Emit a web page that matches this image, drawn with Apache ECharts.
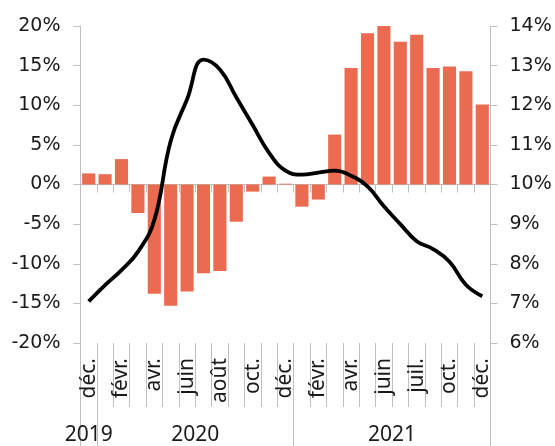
<!DOCTYPE html>
<html>
<head>
<meta charset="utf-8">
<script src="https://cdn.jsdelivr.net/npm/echarts@6/dist/echarts.min.js"></script>
<style>
  html, body { margin: 0; padding: 0; background: #fff; }
  #chart { width: 555px; height: 446px; }
</style>
</head>
<body>
<div id="chart"></div>
<script>
// Monthly categories, déc. 2019 to déc. 2021
const months = [
  'déc.', 'janv.', 'févr.', 'mars', 'avr.', 'mai', 'juin', 'juil.', 'août', 'sept.', 'oct.', 'nov.',
  'déc.', 'janv.', 'févr.', 'mars', 'avr.', 'mai', 'juin', 'juil.', 'juil.', 'sept.', 'oct.', 'nov.', 'déc.'
];
// Year of each month, used to build the grouped year band under the month labels
const monthYears = [
  2019, 2020, 2020, 2020, 2020, 2020, 2020, 2020, 2020, 2020, 2020, 2020,
  2020, 2021, 2021, 2021, 2021, 2021, 2021, 2021, 2021, 2021, 2021, 2021, 2021
];
// Bars, left axis (%)
const barValues = [
  1.4, 1.3, 3.2, -3.6, -13.8, -15.3, -13.5, -11.2, -10.9, -4.7, -0.9, 1.0,
  0.1, -2.8, -1.9, 6.3, 14.7, 19.1, 20.0, 18.0, 18.9, 14.7, 14.9, 14.3, 10.1
];
// Line, right axis (%)
const lineValues = [
  7.05, 7.46, 7.84, 8.3, 9.1, 11.1, 12.15, 13.15, 12.9, 12.2, 11.5, 10.8,
  10.35, 10.25, 10.3, 10.35, 10.22, 9.95, 9.45, 9.0, 8.57, 8.37, 8.05, 7.47, 7.18
];
// Axis ranges
const leftAxis = { min: -20, max: 20, step: 5 };
const rightAxis = { min: 6, max: 14, step: 1 };

// Year groups: boundaries and centres on a 0..n value scale
const yearNames = [];
const yearStart = [];
monthYears.forEach((y, i) => {
  if (i === 0 || monthYears[i - 1] !== y) { yearNames.push(String(y)); yearStart.push(i); }
});
const yearBounds = yearStart.concat([monthYears.length]);
const yearCentres = yearStart.map((s, k) => (s + yearBounds[k + 1]) / 2);

const grey = '#bfbfbf';
const ink = '#1a1a1a';

const chart = echarts.init(document.getElementById('chart'), null, { renderer: 'canvas' });
chart.setOption({
  animation: false,
  grid: { left: 80.5, right: 64.5, top: 26, bottom: 103, containLabel: false },
  xAxis: [
    {
      type: 'category', data: months, gridIndex: 0,
      axisLine: { onZero: true, lineStyle: { color: grey, width: 1 } },
      axisTick: { show: true, interval: 0, length: 8, lineStyle: { color: grey } },
      axisLabel: { show: false },
      splitLine: { show: false }
    },
    {
      type: 'category', data: months, gridIndex: 0, position: 'bottom',
      axisLine: { show: false, onZero: false },
      axisTick: { show: true, interval: 0, length: 64, lineStyle: { color: grey } },
      axisLabel: {
        interval: 1, rotate: 90, margin: 15,
        fontFamily: 'Noto Sans', fontSize: 21, color: ink
      },
      splitLine: { show: false }
    },
    {
      type: 'value', gridIndex: 0, position: 'bottom', min: 0, max: monthYears.length,
      axisLine: { show: false, onZero: false },
      axisTick: { show: true, customValues: yearBounds, length: 103, lineStyle: { color: grey } },
      axisLabel: {
        customValues: yearCentres, margin: 82,
        formatter: v => yearNames[yearCentres.indexOf(v)] || '',
        fontFamily: 'Noto Sans', fontSize: 21, color: ink
      },
      splitLine: { show: false }
    }
  ],
  yAxis: [
    {
      type: 'value', min: leftAxis.min, max: leftAxis.max, interval: leftAxis.step,
      axisLine: { show: true, lineStyle: { color: grey } },
      axisTick: { show: true, length: 7, lineStyle: { color: grey } },
      axisLabel: { formatter: '{value}%', margin: 20, fontFamily: 'DejaVu Sans', fontSize: 19, color: ink },
      splitLine: { show: false }
    },
    {
      type: 'value', min: rightAxis.min, max: rightAxis.max, interval: rightAxis.step,
      position: 'right',
      axisLine: { show: true, lineStyle: { color: grey } },
      axisTick: { show: true, length: 7, lineStyle: { color: grey } },
      axisLabel: { formatter: '{value}%', margin: 19, fontFamily: 'DejaVu Sans', fontSize: 19, color: ink },
      splitLine: { show: false }
    }
  ],
  series: [
    {
      type: 'bar', data: barValues, xAxisIndex: 0, yAxisIndex: 0,
      barCategoryGap: '20%',
      itemStyle: { color: '#EA6B4F' }
    },
    {
      type: 'line', data: lineValues, xAxisIndex: 0, yAxisIndex: 1,
      smooth: 0.45, symbol: 'none',
      lineStyle: { color: '#000', width: 3.8 },
      z: 3
    }
  ]
});
</script>
</body>
</html>
